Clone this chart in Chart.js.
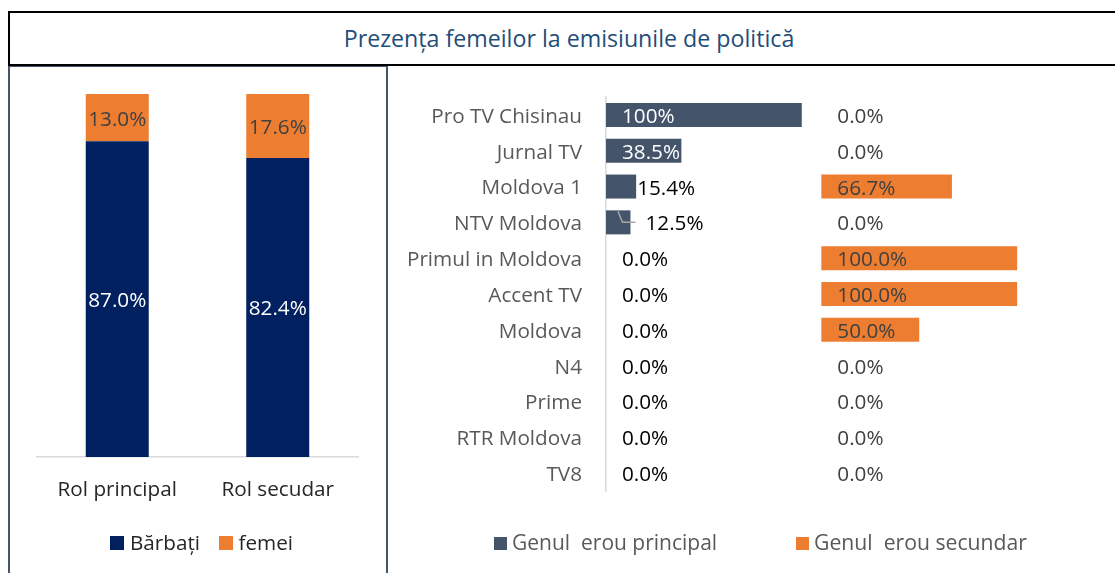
<!DOCTYPE html>
<html>
<head>
<meta charset="utf-8">
<script src="https://cdn.jsdelivr.net/npm/chart.js@4.4.1/dist/chart.umd.min.js"></script>
<style>
  html, body { margin:0; padding:0; background:#fff; width:1115px; height:573px; overflow:hidden; font-family:"Open Sans", sans-serif; }
  #stage { position:relative; width:1115px; height:573px; overflow:hidden; }
  #titleBox { position:absolute; left:8px; top:11px; width:1200px; height:51px; border:2px solid #000; box-sizing:content-box; }
  #title { position:absolute; left:0; top:23px; width:1138px; text-align:center; font-size:23.2px; line-height:30px; color:#1f4e79; white-space:nowrap; }
  #leftPanel { position:absolute; left:8px; top:65px; width:376px; height:600px; border:2px solid #44546a; }
  #leftWrap { position:absolute; left:10px; top:67px; width:375px; height:440px; }
  #rightWrap { position:absolute; left:390px; top:67px; width:725px; height:506px; }
  .lgText { position:absolute; white-space:pre; line-height:20px; }
  .lgBox { position:absolute; }
</style>
</head>
<body>
<div id="stage">
  <div id="leftPanel"></div>
  <div id="titleBox"></div>
  <div id="title">Prezența femeilor la emisiunile de politică</div>
  <div id="leftWrap"><canvas id="leftChart" width="375" height="440"></canvas></div>
  <div id="rightWrap"><canvas id="rightChart" width="725" height="506"></canvas></div>
</div>
<script>
// ---------- DATA ----------
const roles = ['Rol principal', 'Rol secudar'];
const menShare = [87.0, 82.4];
const womenShare = [13.0, 17.6];
const roleSeries = ['Bărbați', 'femei'];

const channels = ['Pro TV Chisinau', 'Jurnal TV', 'Moldova 1', 'NTV Moldova', 'Primul in Moldova',
                  'Accent TV', 'Moldova', 'N4', 'Prime', 'RTR Moldova', 'TV8'];
const principalShare = [100, 38.5, 15.4, 12.5, 0, 0, 0, 0, 0, 0, 0];
const secundarShare  = [0, 0, 66.7, 0, 100, 100, 50, 0, 0, 0, 0];
const heroSeries = ['Genul  erou principal', 'Genul  erou secundar'];

// ---------- STYLE ----------
const FONT = '"Open Sans", sans-serif';
const NAVY = '#002060', ORANGE = '#ed7d31', SLATE = '#44546a';

function fmtPct(v, dsIndex) {
  if (dsIndex === 0 && v === 100) return '100%';
  return v.toFixed(1) + '%';
}

// ---------- LEFT CHART ----------
const leftLabels = {
  id: 'leftLabels',
  afterDatasetsDraw(chart) {
    const ctx = chart.ctx;
    ctx.save();
    ctx.font = '20.7px ' + FONT;
    ctx.textAlign = 'center';
    ctx.textBaseline = 'alphabetic';
    chart.data.datasets.forEach((ds, di) => {
      const meta = chart.getDatasetMeta(di);
      meta.data.forEach((bar, i) => {
        const v = ds.data[i];
        const cy = (bar.y + bar.base) / 2;
        ctx.fillStyle = di === 0 ? '#ffffff' : '#404040';
        ctx.fillText(v.toFixed(1) + '%', bar.x, cy + 8);
      });
    });
    ctx.restore();
  }
};

new Chart(document.getElementById('leftChart'), {
  type: 'bar',
  data: {
    labels: roles,
    datasets: [
      { label: roleSeries[0], data: menShare, backgroundColor: NAVY },
      { label: roleSeries[1], data: womenShare, backgroundColor: ORANGE }
    ]
  },
  options: {
    responsive: false,
    animation: false,
    layout: { padding: { left: 27, right: 27, top: 27, bottom: 0 } },
    plugins: { legend: { display: false }, tooltip: { enabled: false } },
    datasets: { bar: { barPercentage: 0.3925, categoryPercentage: 1 } },
    scales: {
      x: {
        stacked: true,
        grid: { display: false, drawTicks: false },
        border: { display: true, color: '#d9d9d9', width: 1.5 },
        ticks: { padding: 21, color: '#262626', font: { family: FONT, size: 20.7 } },
        afterFit(s) { s.height = 50; }
      },
      y: { stacked: true, display: false, min: 0, max: 100 }
    }
  },
  plugins: [leftLabels]
});

// ---------- RIGHT CHART ----------
const LEADER_ROWS = { 3: 15 };   // label pulled away from its bar with a leader line
const rightLabels = {
  id: 'rightLabels',
  afterDatasetsDraw(chart) {
    const ctx = chart.ctx;
    ctx.save();
    ctx.font = '20.7px ' + FONT;
    ctx.textAlign = 'left';
    ctx.textBaseline = 'alphabetic';
    chart.data.datasets.forEach((ds, di) => {
      const meta = chart.getDatasetMeta(di);
      const scale = chart.scales[meta.xAxisID];
      const base = scale.getPixelForValue(0);
      meta.data.forEach((bar, i) => {
        const v = ds.data[i];
        const text = fmtPct(v, di);
        const tw = ctx.measureText(text).width;
        const end = bar.x;
        let x = base + 16, color;
        if (di === 0) {
          if (v === 0) { color = '#000000'; }
          else if (end - base >= tw + 10) { color = '#ffffff'; }
          else if (LEADER_ROWS[i] !== undefined) {
            x = end + LEADER_ROWS[i];
            color = '#000000';
            const top = bar.y - bar.height / 2;
            ctx.strokeStyle = '#a6a6a6';
            ctx.lineWidth = 1.5;
            ctx.beginPath();
            ctx.moveTo(base + 12, top + 1);
            ctx.lineTo(base + 16.5, bar.y);
            ctx.lineTo(x - 10, bar.y);
            ctx.stroke();
          } else { x = end + 1; color = '#000000'; }
        } else {
          color = '#404040';
        }
        ctx.fillStyle = color;
        ctx.fillText(text, x, bar.y + 8);
      });
    });
    ctx.restore();
  }
};

new Chart(document.getElementById('rightChart'), {
  type: 'bar',
  data: {
    labels: channels,
    datasets: [
      { label: heroSeries[0], data: principalShare, backgroundColor: SLATE, xAxisID: 'x', grouped: false },
      { label: heroSeries[1], data: secundarShare, backgroundColor: ORANGE, xAxisID: 'x2', grouped: false }
    ]
  },
  options: {
    indexAxis: 'y',
    responsive: false,
    animation: false,
    layout: { padding: { left: 0, right: 0, top: 30, bottom: 82 } },
    plugins: { legend: { display: false }, tooltip: { enabled: false } },
    datasets: { bar: { barPercentage: 0.67, categoryPercentage: 1 } },
    scales: {
      x: { type: 'linear', axis: 'x', display: false, min: 0, max: 260 },
      x2: { type: 'linear', axis: 'x', display: false, min: -110, max: 150 },
      y: {
        grid: { display: false, drawTicks: false },
        border: { display: true, color: '#d9d9d9', width: 1.5 },
        ticks: { padding: 24, color: '#595959', autoSkip: false, labelOffset: 2, font: { family: FONT, size: 20.7 } },
        afterFit(s) { s.width = 216; s.paddingTop = 0; s.paddingBottom = 0; }
      }
    }
  },
  plugins: [rightLabels]
});

// ---------- LEGENDS (HTML) ----------
function addLegend(items) {
  const stage = document.getElementById('stage');
  items.forEach(it => {
    const b = document.createElement('div');
    b.className = 'lgBox';
    Object.assign(b.style, { left: it.bx + 'px', top: it.by + 'px', width: it.bs + 'px', height: it.bs + 'px', background: it.color });
    stage.appendChild(b);
    const t = document.createElement('div');
    t.className = 'lgText';
    t.textContent = it.text;
    Object.assign(t.style, { left: it.tx + 'px', top: it.ty + 'px', fontSize: it.fs + 'px', color: it.tc });
    stage.appendChild(t);
  });
}
addLegend([
  { text: roleSeries[0], color: NAVY,   bx: 110, by: 536, bs: 14, tx: 130, ty: 532, fs: 20.7, tc: '#262626' },
  { text: roleSeries[1], color: ORANGE, bx: 219, by: 536, bs: 14, tx: 238.5, ty: 532, fs: 20.7, tc: '#262626' },
  { text: heroSeries[0], color: SLATE,  bx: 494, by: 537, bs: 13, tx: 512, ty: 532, fs: 21, tc: '#595959' },
  { text: heroSeries[1], color: ORANGE, bx: 796, by: 537, bs: 13, tx: 814, ty: 532, fs: 21.2, tc: '#595959' }
]);
</script>
</body>
</html>
